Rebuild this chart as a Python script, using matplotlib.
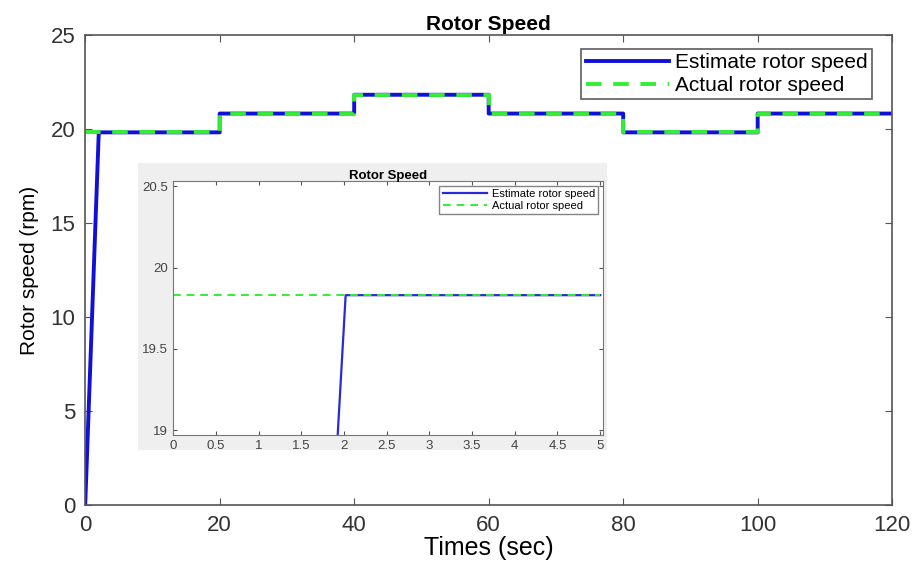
import matplotlib.pyplot as plt
from matplotlib.patches import Rectangle

# estimate: ramp from 0 then follows the steps
est_t = [0, 2.02, 20, 20, 40, 40, 60, 60, 80, 80, 100, 100, 120]
est_v = [0, 19.83, 19.83, 20.83, 20.83, 21.83, 21.83, 20.83, 20.83, 19.83, 19.83, 20.83, 20.83]

act_t = [0, 20, 20, 40, 40, 60, 60, 80, 80, 100, 100, 120]
act_v = [19.83, 19.83, 20.83, 20.83, 21.83, 21.83, 20.83, 20.83, 19.83, 19.83, 20.83, 20.83]

# zoomed window shown in the inset
zoom_est_t = [0, 1.93, 2.02, 5]
zoom_est_v = [0, 19.0, 19.83, 19.83]
zoom_act_t = [0, 5]
zoom_act_v = [19.83, 19.83]

x_ticks = [0, 20, 40, 60, 80, 100, 120]
y_ticks = [0, 5, 10, 15, 20, 25]
inset_x_ticks = [0, 0.5, 1, 1.5, 2, 2.5, 3, 3.5, 4, 4.5, 5]
inset_y_ticks = [19, 19.5, 20, 20.5]

BLUE = "#1010d8"
GREEN = "#33ee33"
AXIS = "#555555"

plt.rcParams["font.family"] = ["Liberation Sans", "DejaVu Sans"]

fig = plt.figure(figsize=(9.16, 5.67), dpi=100)
ax = fig.add_axes([0.093, 0.109, 0.881, 0.829])

ax.plot(est_t, est_v, color=BLUE, linewidth=2.8, label="Estimate rotor speed")
ax.plot(act_t, act_v, color=GREEN, linewidth=2.8, linestyle=(0, (4, 3)),
        label="Actual rotor speed")
ax.set_xlim(0, 120)
ax.set_ylim(0, 25)
ax.set_xticks(x_ticks)
ax.set_yticks(y_ticks)
ax.tick_params(direction="in", labelsize=16, color=AXIS, length=5,
               top=True, right=True, labelcolor="#333333", pad=7)
for s in ax.spines.values():
    s.set_color(AXIS)
    s.set_linewidth(1.2)
ax.set_title("Rotor Speed", fontsize=15, fontweight="bold", pad=4)
ax.set_xlabel("Times (sec)", fontsize=18, labelpad=0)
ax.set_ylabel("Rotor speed (rpm)", fontsize=15, labelpad=8)
leg = ax.legend(loc="upper right", bbox_to_anchor=(0.952, 0.914),
                bbox_transform=fig.transFigure, borderaxespad=0,
                fontsize=15, handlelength=4.0,
                fancybox=False, borderpad=0.2, labelspacing=0.2,
                handletextpad=0.3)
leg.get_frame().set_edgecolor("#333333")
leg.get_frame().set_linewidth(1.2)

# light grey panel behind the inset
fig.patches.append(Rectangle((0.151, 0.206), 0.512, 0.507, transform=fig.transFigure,
                             facecolor="#efefef", edgecolor="none", zorder=2))

ins = fig.add_axes([0.189, 0.233, 0.469, 0.447])
ins.set_zorder(3)
ins.plot(zoom_est_t, zoom_est_v, color="#2a2ad8", linewidth=1.6,
         label="Estimate rotor speed")
ins.plot(zoom_act_t, zoom_act_v, color=GREEN, linewidth=1.4,
         linestyle=(0, (4, 3)), label="Actual rotor speed")
ins.set_xlim(0, 5.03)
ins.set_ylim(18.97, 20.53)
ins.set_xticks(inset_x_ticks)
ins.set_xticklabels(["0", "0.5", "1", "1.5", "2", "2.5", "3", "3.5", "4", "4.5", "5"])
ins.set_yticks(inset_y_ticks)
ins.set_yticklabels(["19", "19.5", "20", "20.5"])
ins.tick_params(direction="in", labelsize=9.5, color=AXIS, length=3,
                top=True, right=True, labelcolor="#444444", pad=4)
for s in ins.spines.values():
    s.set_color("#777777")
ins.set_title("Rotor Speed", fontsize=9.5, fontweight="bold", pad=2)
ileg = ins.legend(loc="upper right", fontsize=8, handlelength=4,
                  fancybox=False, borderpad=0.3, labelspacing=0.15,
                  handletextpad=0.4, borderaxespad=0.4)
ileg.get_frame().set_edgecolor("#666666")

fig.savefig("out.png", dpi=100)
